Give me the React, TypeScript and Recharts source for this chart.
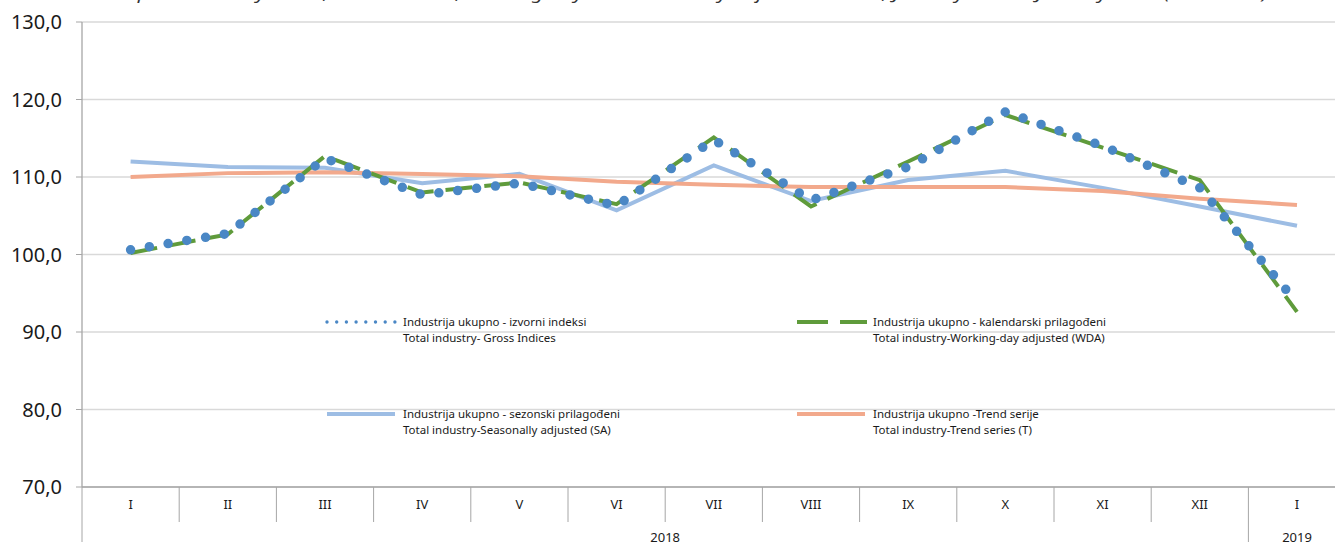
import { ComposedChart, Line, XAxis, YAxis, CartesianGrid, Legend } from 'recharts';

// Mjesečni indeksi industrijske proizvodnje, siječanj 2018. – siječanj 2019.
const PERIODS = [
  '2018-01', '2018-02', '2018-03', '2018-04', '2018-05', '2018-06', '2018-07',
  '2018-08', '2018-09', '2018-10', '2018-11', '2018-12', '2019-01',
];
const MONTH_LABELS = ['I', 'II', 'III', 'IV', 'V', 'VI', 'VII', 'VIII', 'IX', 'X', 'XI', 'XII', 'I'];
const YEAR_LABELS = ['2018', '2019'];
const YEAR_SPANS = [12, 1];

const GROSS = [100.6, 102.7, 112.4, 107.7, 109.2, 106.3, 114.8, 107.0, 111.3, 118.4, 114.0, 108.6, 93.8];
const WDA = [100.2, 102.6, 112.7, 108.0, 109.3, 106.5, 115.1, 106.2, 112.0, 118.0, 113.8, 109.6, 92.6];
const SA = [112.0, 111.3, 111.2, 109.2, 110.4, 105.7, 111.5, 106.9, 109.6, 110.8, 108.6, 106.2, 103.7];
const TREND = [110.0, 110.5, 110.6, 110.4, 110.1, 109.4, 109.0, 108.7, 108.7, 108.7, 108.2, 107.2, 106.4];

const Y_TICKS = [70, 80, 90, 100, 110, 120, 130];

const TITLE =
  'Graph 1. Industry series, Gross Indices, Working-day and Seasonally adjusted Indices, January 2018 – January 2019 (2015=100)';

const SERIES = [
  { key: 'gross', hr: 'Industrija ukupno - izvorni indeksi', en: 'Total industry- Gross Indices', color: '#4a87c5' },
  { key: 'wda', hr: 'Industrija ukupno - kalendarski prilagođeni', en: 'Total industry-Working-day adjusted (WDA)', color: '#5f9b3b' },
  { key: 'sa', hr: 'Industrija ukupno - sezonski prilagođeni', en: 'Total industry-Seasonally adjusted (SA)', color: '#9dbde4' },
  { key: 'trend', hr: 'Industrija ukupno -Trend serije', en: 'Total industry-Trend series (T)', color: '#f2a98c' },
];

const data = PERIODS.map((period, i) => ({
  period,
  gross: GROSS[i],
  wda: WDA[i],
  sa: SA[i],
  trend: TREND[i],
}));

// layout
const CHART_W = 1380;
const CHART_H = 542;
const Y_AXIS_W = 82;
const TOP = 22;
const RIGHT = 34.4;
const X_AXIS_H = 55;
const PLOT_BOTTOM = CHART_H - X_AXIS_H;
const BAND = (CHART_W - Y_AXIS_W - RIGHT) / PERIODS.length;
const FONT = '"Noto Sans", "Open Sans", sans-serif';
const AXIS_GRAY = '#a6a6a6';

function MonthTick(props: any) {
  const { x, payload } = props;
  const i: number = payload.index ?? props.index;
  const left = x - BAND / 2;

  // which year group does this tick start?
  let start = 0;
  let yearIdx = -1;
  YEAR_SPANS.forEach((span, g) => {
    if (start === i) yearIdx = g;
    start += span;
  });

  return (
    <g>
      <text x={x} y={PLOT_BOTTOM + 22} textAnchor="middle" fontSize={13} fontFamily={FONT} fill="#1a1a1a">
        {MONTH_LABELS[i]}
      </text>
      <line
        x1={left}
        x2={left}
        y1={PLOT_BOTTOM}
        y2={yearIdx >= 0 ? CHART_H : PLOT_BOTTOM + 35}
        stroke={AXIS_GRAY}
        strokeWidth={1}
      />
      {yearIdx >= 0 && (
        <text
          x={left + (YEAR_SPANS[yearIdx] * BAND) / 2}
          y={PLOT_BOTTOM + 55}
          textAnchor="middle"
          fontSize={13}
          fontFamily={FONT}
          fill="#1a1a1a"
        >
          {YEAR_LABELS[yearIdx]}
        </text>
      )}
    </g>
  );
}

function LegendBox() {
  const cols = [327, 797];
  const rows = [322, 414];
  return (
    <svg width={1335} height={542} style={{ position: 'absolute', left: 0, top: 0 }}>
      {SERIES.map((s, i) => {
        const x0 = cols[i % 2];
        const y0 = rows[Math.floor(i / 2)];
        let swatch;
        if (s.key === 'gross') {
          swatch = (
            <line x1={x0} x2={x0 + 68} y1={y0} y2={y0} stroke={s.color} strokeWidth={3.4}
              strokeDasharray="0 9.7" strokeLinecap="round" />
          );
        } else if (s.key === 'wda') {
          swatch = (
            <line x1={x0} x2={x0 + 70} y1={y0} y2={y0} stroke={s.color} strokeWidth={4}
              strokeDasharray="31 12" />
          );
        } else {
          swatch = <line x1={x0} x2={x0 + 68} y1={y0} y2={y0} stroke={s.color} strokeWidth={4} />;
        }
        return (
          <g key={s.key}>
            {swatch}
            <text x={x0 + 76} y={y0 + 4} fontSize={11.5} fontFamily={FONT} fill="#1a1a1a">
              {s.hr}
            </text>
            <text x={x0 + 76} y={y0 + 20} fontSize={11.5} fontFamily={FONT} fill="#1a1a1a">
              {s.en}
            </text>
          </g>
        );
      })}
    </svg>
  );
}

export default function App() {
  return (
    <div
      style={{
        position: 'fixed',
        left: 0,
        top: 0,
        width: 1335,
        height: 542,
        overflow: 'hidden',
        background: '#fff',
      }}
    >
      <svg width={1335} height={20} style={{ position: 'absolute', left: 0, top: 0 }}>
        <text
          x={104}
          y={-1}
          textLength={1164}
          lengthAdjust="spacingAndGlyphs"
          fontSize={15.5}
          fontStyle="italic"
          fontFamily={FONT}
          fill="#333"
        >
          {TITLE}
        </text>
      </svg>
      <ComposedChart
        width={CHART_W}
        height={CHART_H}
        data={data}
        margin={{ top: TOP, right: RIGHT, bottom: 0, left: 0 }}
      >
        <CartesianGrid horizontal vertical={false} stroke="#d9d9d9" strokeWidth={1.3} />
        <XAxis
          dataKey="period"
          scale="band"
          height={X_AXIS_H}
          interval={0}
          tickLine={false}
          axisLine={{ stroke: AXIS_GRAY, strokeWidth: 1.3 }}
          tick={<MonthTick />}
        />
        <YAxis
          width={Y_AXIS_W}
          domain={[70, 130]}
          ticks={Y_TICKS}
          interval={0}
          tickSize={6}
          tickMargin={14}
          tickLine={{ stroke: AXIS_GRAY }}
          axisLine={{ stroke: AXIS_GRAY, strokeWidth: 1.3 }}
          tick={{ fontSize: 20, fontFamily: FONT, fill: '#1a1a1a' }}
          tickFormatter={(v: number) => v.toFixed(1).replace('.', ',')}
        />
        <Legend
          layout="horizontal"
          verticalAlign="middle"
          align="center"
          wrapperStyle={{ left: 0, top: 0, width: 1335, height: 542, pointerEvents: 'none' }}
          content={() => <LegendBox />}
        />
        <Line type="linear" dataKey="sa" stroke={SERIES[2].color} strokeWidth={4} dot={false} isAnimationActive={false} />
        <Line type="linear" dataKey="trend" stroke={SERIES[3].color} strokeWidth={4} dot={false} isAnimationActive={false} />
        <Line
          type="linear"
          dataKey="wda"
          stroke={SERIES[1].color}
          strokeWidth={4}
          strokeDasharray="27 12"
          dot={false}
          isAnimationActive={false}
        />
        <Line
          type="linear"
          dataKey="gross"
          stroke={SERIES[0].color}
          strokeWidth={9.5}
          strokeDasharray="0 19"
          strokeLinecap="round"
          dot={false}
          isAnimationActive={false}
        />
      </ComposedChart>
    </div>
  );
}
